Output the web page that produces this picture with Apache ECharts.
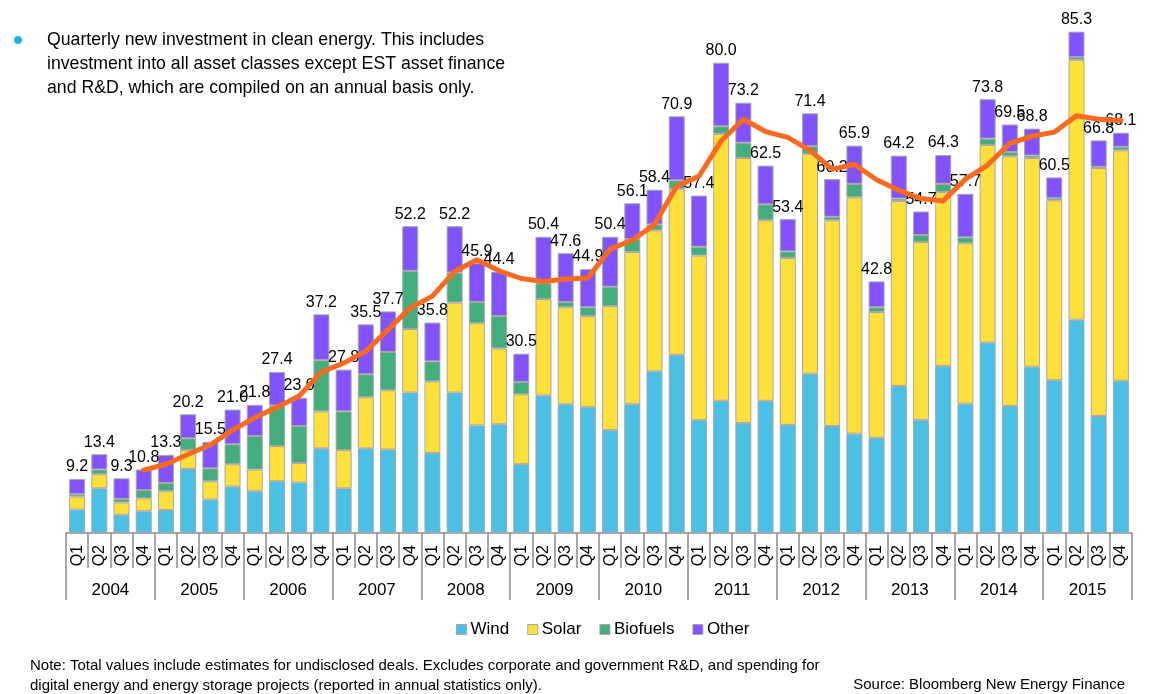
<!DOCTYPE html>
<html>
<head>
<meta charset="utf-8">
<script src="https://cdn.jsdelivr.net/npm/echarts@6/dist/echarts.min.js"></script>
<style>
    html, body { margin: 0; padding: 0; background: #fff; }
    #main { width: 1155px; height: 694px; }
</style>
</head>
<body>
<div id="main"></div>
<script>
/**
 * Quarterly new investment in clean energy
 */

var quarters = ['Q1', 'Q2', 'Q3', 'Q4'];
var years = ['2004', '2005', '2006', '2007', '2008', '2009', '2010', '2011', '2012', '2013', '2014', '2015'];

// one category per quarter
var categories = [];
years.forEach(function (y) {
    quarters.forEach(function (q) {
        categories.push(q);
    });
});

var wind = [4.0, 7.6, 3.1, 3.7, 3.9, 10.9, 5.7, 7.9, 7.1, 8.8, 8.6, 14.4,
    7.6, 14.4, 14.2, 23.9, 13.6, 23.9, 18.3, 18.5, 11.7, 23.4, 21.9, 21.4,
    17.5, 21.9, 27.5, 30.3, 19.2, 22.5, 18.7, 22.5, 18.4, 27.1, 18.2, 16.9,
    16.2, 25.0, 19.2, 28.4, 22.0, 32.4, 21.6, 28.3, 26.0, 36.3, 19.9, 25.9];
var solar = [2.2, 2.4, 2.1, 2.2, 3.2, 3.2, 3.1, 3.8, 3.7, 6.0, 3.3, 6.3,
    6.5, 8.7, 10.1, 10.8, 12.2, 15.3, 17.4, 12.9, 11.9, 16.4, 16.5, 15.5,
    21.1, 25.9, 24.0, 28.2, 28.0, 45.4, 45.1, 30.7, 28.4, 37.4, 35.0, 40.2,
    21.4, 31.5, 30.3, 29.6, 27.3, 33.6, 42.5, 35.5, 30.6, 44.2, 42.2, 39.2];
var biofuels = [0.4, 0.8, 0.6, 1.4, 1.4, 2.0, 2.2, 3.4, 5.7, 6.9, 6.3, 8.7,
    6.6, 3.9, 6.5, 9.9, 3.4, 5.1, 3.6, 5.5, 2.1, 2.7, 0.9, 1.5,
    3.3, 2.2, 1.0, 1.5, 1.5, 1.3, 2.6, 2.7, 1.1, 1.3, 0.6, 2.3,
    0.8, 0.4, 1.2, 1.4, 1.0, 1.1, 0.7, 0.4, 0.4, 0.5, 0.2, 0.6];
var other = [2.6, 2.6, 3.5, 3.5, 4.8, 4.1, 4.5, 5.9, 5.3, 5.7, 4.8, 7.8,
    7.1, 8.5, 6.9, 7.6, 6.6, 7.9, 6.6, 7.5, 4.8, 7.9, 8.3, 6.5,
    8.5, 6.1, 5.9, 10.9, 8.7, 10.8, 6.8, 6.6, 5.5, 5.6, 6.4, 6.5,
    4.4, 7.3, 4.0, 4.9, 7.4, 6.7, 4.7, 4.6, 3.5, 4.3, 4.5, 2.4];
var totals = ['9.2', '13.4', '9.3', '10.8', '13.3', '20.2', '15.5', '21.0', '21.8', '27.4', '23.0', '37.2',
    '27.8', '35.5', '37.7', '52.2', '35.8', '52.2', '45.9', '44.4', '30.5', '50.4', '47.6', '44.9',
    '50.4', '56.1', '58.4', '70.9', '57.4', '80.0', '73.2', '62.5', '53.4', '71.4', '60.2', '65.9',
    '42.8', '64.2', '54.7', '64.3', '57.7', '73.8', '69.5', '68.8', '60.5', '85.3', '66.8', '68.1'];
// trailing four-quarter average (orange line)
var average = ['-', '-', '-', 10.7, 11.7, 13.4, 15.0, 17.5, 19.6, 21.4, 23.3, 27.4,
    28.9, 30.9, 34.6, 38.3, 40.3, 44.5, 46.5, 44.6, 43.3, 42.8, 43.2, 43.4,
    48.3, 49.8, 52.5, 59.0, 60.7, 66.7, 70.4, 68.3, 67.3, 65.1, 61.9, 62.7,
    60.1, 58.3, 56.9, 56.5, 60.2, 62.6, 66.3, 67.5, 68.2, 71.0, 70.4, 70.2];

var FONT = 'Liberation Sans';

function barSeries(name, data, color) {
    return {
        name: name,
        type: 'bar',
        stack: 'total',
        barWidth: '72%',
        data: data,
        itemStyle: {
            color: color,
            borderColor: '#a6a6a6',
            borderWidth: 1
        }
    };
}

var series = [
    barSeries('Wind', wind, '#4ac0e6'),
    barSeries('Solar', solar, '#fee03a'),
    barSeries('Biofuels', biofuels, '#44ad7c'),
    barSeries('Other', other, '#8152fd')
];
// totals above the stack
series[3].label = {
    show: true,
    position: 'top',
    distance: 4,
    color: '#000',
    fontSize: 16,
    fontFamily: FONT,
    formatter: function (p) {
        return totals[p.dataIndex];
    }
};
series.push({
    name: 'Average',
    type: 'line',
    data: average,
    symbol: 'none',
    z: 5,
    lineStyle: {
        color: '#fa6a1e',
        width: 5,
        join: 'round',
        cap: 'round'
    }
});

var myChart = echarts.init(document.getElementById('main'));

myChart.setOption({
    animation: false,
    textStyle: {fontFamily: FONT},
    title: [
        {
            text: 'Quarterly new investment in clean energy. This includes\ninvestment into all asset classes except EST asset finance\nand R&D, which are compiled on an annual basis only.',
            left: 47,
            top: 28,
            padding: 0,
            textStyle: {fontSize: 17.7, lineHeight: 24, fontWeight: 'normal', color: '#000', fontFamily: FONT}
        },
        {
            text: 'Note: Total values include estimates for undisclosed deals. Excludes corporate and government R&D, and spending for\ndigital energy and energy storage projects (reported in annual statistics only).',
            left: 30,
            top: 656,
            padding: 0,
            textStyle: {fontSize: 15, lineHeight: 20, fontWeight: 'normal', color: '#000', fontFamily: FONT}
        },
        {
            text: 'Source: Bloomberg New Energy Finance',
            right: 30,
            top: 677,
            padding: 0,
            textStyle: {fontSize: 15, fontWeight: 'normal', color: '#000', fontFamily: FONT}
        }
    ],
    graphic: [
        {type: 'circle', shape: {cx: 18, cy: 40, r: 4}, style: {fill: '#1cb2e8'}}
    ],
    legend: {
        data: ['Wind', 'Solar', 'Biofuels', 'Other'],
        left: 451,
        top: 616,
        icon: 'rect',
        itemWidth: 10,
        itemHeight: 10,
        itemGap: 18,
        itemStyle: {borderColor: '#a6a6a6', borderWidth: 1},
        textStyle: {fontSize: 17, color: '#000', fontFamily: FONT, padding: [0, 0, 0, -1]}
    },
    grid: {left: 66, right: 23, top: 4, bottom: 161},
    xAxis: [
        {
            type: 'category',
            data: categories,
            position: 'bottom',
            axisLine: {lineStyle: {color: '#8c8c8c', width: 1.5}},
            axisTick: {show: true, interval: 0, length: 35, lineStyle: {color: '#8c8c8c', width: 1.5}},
            axisLabel: {interval: 0, rotate: 90, margin: 12, fontSize: 16, color: '#000', fontFamily: FONT}
        },
        {
            type: 'category',
            data: years,
            position: 'bottom',
            axisLine: {show: false},
            axisTick: {show: true, interval: 0, length: 67, lineStyle: {color: '#8c8c8c', width: 1.5}},
            axisLabel: {interval: 0, margin: 49, fontSize: 17, color: '#000', fontFamily: FONT}
        }
    ],
    yAxis: {
        type: 'value',
        min: 0,
        max: 90,
        show: false,
        splitLine: {show: false}
    },
    series: series
});
</script>
</body>
</html>
